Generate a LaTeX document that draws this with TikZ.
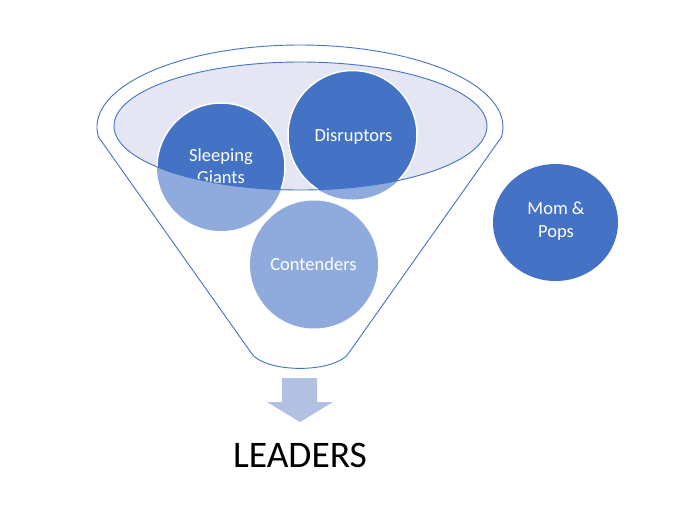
\documentclass[tikz,border=0pt]{standalone}
\usepackage{fontspec}
\setmainfont{Carlito}
\usetikzlibrary{shapes.geometric}
\definecolor{darkblue}{RGB}{68,114,196}
\definecolor{lightblue}{RGB}{143,170,220}
\definecolor{lavender}{RGB}{228,231,243}
\definecolor{arrowblue}{RGB}{178,192,225}
\begin{document}
\begin{tikzpicture}[x=1pt,y=-1pt,
  funnelline/.style={draw=darkblue,line width=0.9pt},
  ball/.style={circle,inner sep=0pt,outer sep=0pt,minimum size=#1},
  lightball/.style={ball=#1,fill=lightblue},
  darkball/.style={ball=#1,fill=darkblue,draw=white,line width=1.5pt},
  label/.style={text=white,font=\fontsize{18.5}{22}\selectfont,anchor=base,inner sep=0pt}]
\useasboundingbox (0,0) rectangle (684,507);
\fill[white] (0,0) rectangle (684,507);
% funnel outline
\draw[funnelline,line join=round] (98.5,137) arc[start angle=173,end angle=367,x radius=203,y radius=82]
  -- (348,354) arc[start angle=16.3,end angle=163.7,x radius=50,y radius=20] -- cycle;
% inner rim
\fill[lavender] (300.5,126) ellipse[x radius=186.5,y radius=64];
% light (lower) parts of circles
\node[lightball=128pt] (sg) at (221,167) {};
\node[lightball=129pt] (dis) at (352.5,135) {};
\node[lightball=128pt] (con) at (314,264.5) {};
% dark parts inside the rim
\begin{scope}
  \clip (300.5,126) ellipse[x radius=186.5,y radius=64];
  \node[darkball=128pt] (sgd) at (sg) {};
  \node[darkball=129pt] (disd) at (dis) {};
  \node[label] (sgt1) at (221,161.5) {Sleeping};
  \node[label] (sgt2) at (221,183) {Giants};
  \node[label] (dist) at (353.5,141.5) {Disruptors};
\end{scope}
\draw[funnelline] (300.5,126) ellipse[x radius=186.5,y radius=64];
\node[label] (cont) at (313.5,270.5) {Contenders};
% Mom & Pops
\node[ellipse,inner sep=0pt,outer sep=0pt,minimum width=125pt,minimum height=117pt,fill=darkblue] (mp) at (555.5,222.5) {};
\node[label] (mpt1) at (556,214) {Mom \&};
\node[label] (mpt2) at (556,237.5) {Pops};
% arrow
\fill[arrowblue] (282,378) -- (317,378) -- (317,402) -- (333,402) -- (300,422) -- (267,402) -- (282,402) -- cycle;
\node[anchor=base,inner sep=0pt,font=\fontsize{37.5}{45}\selectfont] (lead) at (300,467) {LEADERS};
\end{tikzpicture}
\end{document}
